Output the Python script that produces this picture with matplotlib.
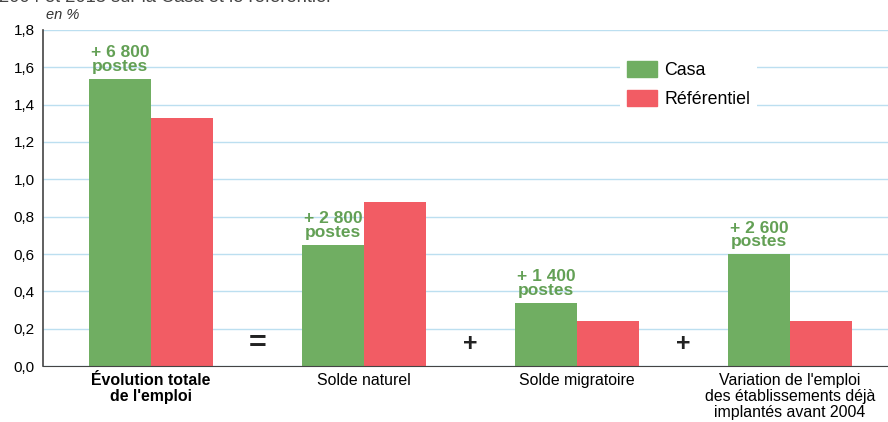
import numpy as np
import matplotlib.pyplot as plt
from matplotlib.patches import Patch

# --- data ---
categories = ["Évolution totale\nde l'emploi", "Solde naturel", "Solde migratoire",
              "Variation de l'emploi\ndes établissements déjà\nimplantés avant 2004"]
casa = [1.54, 0.65, 0.34, 0.60]
referentiel = [1.33, 0.88, 0.24, 0.24]
casa_labels = ["+ 6 800\npostes", "+ 2 800\npostes", "+ 1 400\npostes", "+ 2 600\npostes"]
operators = ["=", "+", "+"]
yticks = [0.0, 0.2, 0.4, 0.6, 0.8, 1.0, 1.2, 1.4, 1.6, 1.8]

green = '#70ae62'
red = '#f25c64'
label_green = '#63a055'

plt.rcParams['font.family'] = ['Liberation Sans', 'DejaVu Sans']

fig = plt.figure(figsize=(8.88, 4.22), dpi=100)
ax = fig.add_axes([43 / 888, 1 - 366 / 422, 1 - 43 / 888, 336 / 422])

x = np.arange(len(categories))
w = 0.29
ax.bar(x - w / 2, casa, width=w, color=green, zorder=2)
ax.bar(x + w / 2, referentiel, width=w, color=red, zorder=2)

# labels above green bars
for xi, v, lab in zip(x, casa, casa_labels):
    ax.text(xi - w / 2, v + 0.025, lab, ha='center', va='bottom', color=label_green,
            fontsize=12.5, fontweight='bold', linespacing=0.9)

# operators between groups
for i, op in enumerate(operators):
    ax.text(x[i] + 0.5, 0.12, op, ha='center', va='center', fontsize=22 if op == '=' else 18,
            fontweight='bold', color='#222222')

ax.set_xlim(-0.507, 3.46)
ax.set_ylim(0, 1.8)
ax.set_yticks(yticks)
ax.set_yticklabels([f"{t:.1f}".replace('.', ',') for t in yticks], fontsize=11)
ax.set_xticks(x)
ax.set_xticklabels(categories, fontsize=11.4, linespacing=1.1)
ax.get_xticklabels()[0].set_fontweight('bold')
ax.tick_params(axis='x', length=0, pad=5)
ax.tick_params(axis='y', length=0, pad=6)

ax.grid(axis='y', color='#bcdff0', linewidth=1, zorder=0)
for s in ['top', 'right']:
    ax.spines[s].set_visible(False)
ax.spines['left'].set_color('#444444')
ax.spines['bottom'].set_color('#444444')
ax.spines['left'].set_linewidth(1.2)

handles = [Patch(color=green, label='Casa'), Patch(color=red, label='Référentiel')]
leg = ax.legend(handles=handles, loc='upper left', bbox_to_anchor=(0.672, 0.955),
                frameon=True, fontsize=12.8, handlelength=1.7, handleheight=1.0,
                borderpad=0.4, labelspacing=0.6, handletextpad=0.4)
leg.get_frame().set_edgecolor('none')
leg.get_frame().set_facecolor('white')
leg.get_frame().set_alpha(1)

fig.text(43 / 888 + 0.003, 1 - 15 / 422, "en %", fontsize=10.5, style='italic',
         ha='left', va='center', color='#333333')
fig.text(-0.001, 1.006, "2004 et 2013 sur la Casa et le référentiel", fontsize=13.2,
         ha='left', va='center', color='#444444')

fig.savefig('out.png', dpi=100)
